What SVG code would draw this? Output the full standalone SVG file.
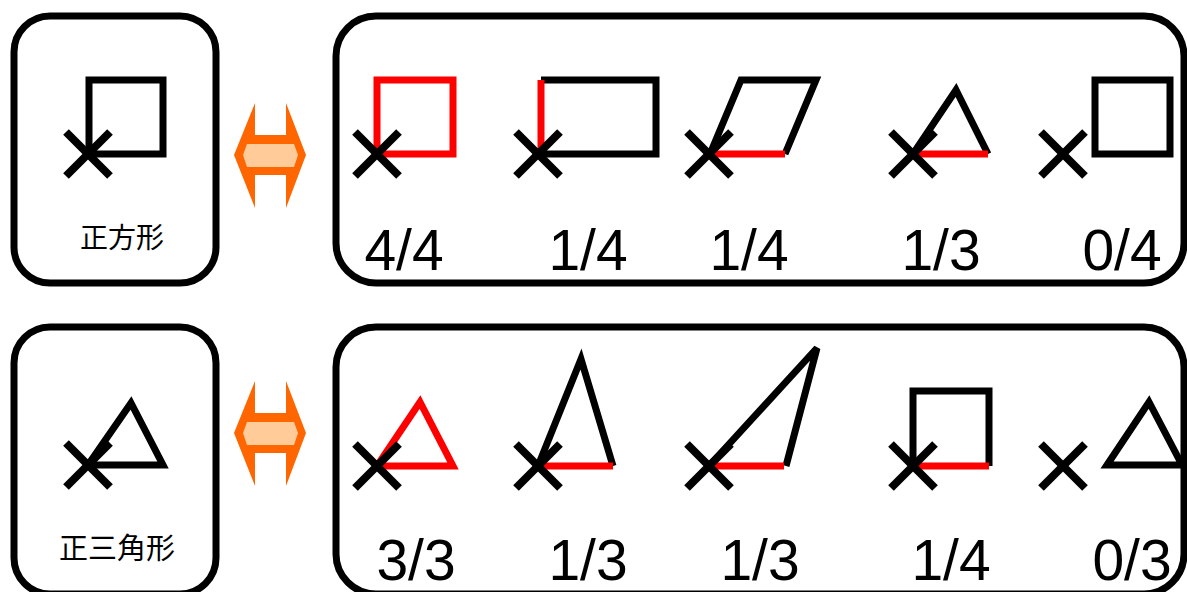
<svg xmlns="http://www.w3.org/2000/svg" width="1187" height="592" viewBox="0 0 1187 592">
<defs>
<style>
.box{fill:#fff;stroke:#000;stroke-width:7}
.k{fill:none;stroke:#000;stroke-width:7;stroke-linejoin:miter;stroke-linecap:butt}
.r{fill:none;stroke:#f00;stroke-width:7;stroke-linejoin:miter;stroke-linecap:butt}
.x{stroke:#000;stroke-width:8;stroke-linecap:butt}
.num{font-family:"Liberation Sans",Arial,sans-serif;font-size:57px;fill:#000;text-anchor:middle}
.jp{font-family:"Noto Sans CJK JP","Noto Sans CJK SC",sans-serif;font-size:28px;fill:#000;text-anchor:middle}
.ao{fill:#ff6600}
.ai{fill:#ffcc99}
</style>
<g id="xm"><line class="x" x1="-22" y1="-22" x2="22" y2="22"/><line class="x" x1="-22" y1="22" x2="22" y2="-22"/></g>
<g id="dbl"><polygon class="ao" points="234,155 255,103 255,135 286,135 286,103 306,155 286,208 286,175 255,175 255,208"/><polygon class="ai" points="243,155 247,144 294,144 298,155 294,167 247,167"/></g>
</defs>
<rect width="1187" height="592" fill="#fff"/>

<!-- Top row -->
<g id="node-square">
<rect class="box" x="14" y="16" width="202" height="267" rx="36"/>
<polygon class="k" points="89,80 163,80 163,154 89,154"/>
<use href="#xm" x="88" y="154"/>
<text class="jp" x="122" y="248">正方形</text>
</g>
<g id="connectors">
<use href="#dbl"/>
<use href="#dbl" y="278"/>
</g>
<g id="node-square-cases">
<rect class="box" x="336" y="16" width="848" height="267" rx="40"/>
<polygon class="r" points="377,80 453,80 453,154 377,154"/>
<use href="#xm" x="377" y="154"/>
<text class="num" x="404" y="270">4/4</text>

<polyline class="k" points="541,80 656,80 656,154 538,154"/>
<line class="r" x1="541" y1="80" x2="541" y2="152"/>
<use href="#xm" x="538" y="154"/>
<text class="num" x="588" y="270">1/4</text>

<polyline class="k" points="785,154 816,80 741,80 710,154"/>
<line class="r" x1="710" y1="154" x2="785" y2="154"/>
<use href="#xm" x="709" y="154"/>
<text class="num" x="749" y="270">1/4</text>

<polyline class="k" points="913,154 956,90 988,154"/>
<line class="r" x1="913" y1="154" x2="988" y2="154"/>
<use href="#xm" x="913" y="154"/>
<text class="num" x="941" y="270">1/3</text>

<polygon class="k" points="1095,80 1170,80 1170,154 1095,154"/>
<use href="#xm" x="1063" y="154"/>
<text class="num" x="1122" y="270">0/4</text>
</g>

<!-- Bottom row -->
<g id="node-triangle">
<rect class="box" x="14" y="327" width="202" height="267" rx="36"/>
<polygon class="k" points="88,465 131,403 163,465"/>
<use href="#xm" x="88" y="465"/>
<text class="jp" x="117" y="559" style="font-size:29px">正三角形</text>
</g>
<g id="node-triangle-cases">
<rect class="box" x="336" y="327" width="848" height="267" rx="40"/>
<polygon class="r" points="377,466 420,402 453,466"/>
<use href="#xm" x="377" y="466"/>
<text class="num" x="416" y="580">3/3</text>

<polyline class="k" points="538,466 581,359 613,466"/>
<line class="r" x1="538" y1="466" x2="613" y2="466"/>
<use href="#xm" x="538" y="466"/>
<text class="num" x="588" y="580">1/3</text>

<polyline class="k" points="709,466 817,348 786,466"/>
<line class="r" x1="709" y1="466" x2="784" y2="466"/>
<use href="#xm" x="709" y="466"/>
<text class="num" x="760" y="580">1/3</text>

<polyline class="k" points="913,466 913,391 989,391 989,466"/>
<line class="r" x1="913" y1="466" x2="989" y2="466"/>
<use href="#xm" x="913" y="466"/>
<text class="num" x="951" y="580">1/4</text>

<polygon class="k" points="1107,465 1149,402 1182,465"/>
<use href="#xm" x="1063" y="466"/>
<text class="num" x="1132" y="580">0/3</text>
</g>
</svg>
